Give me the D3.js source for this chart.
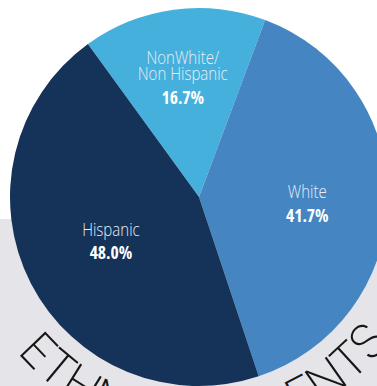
<!DOCTYPE html>
<html>
<head>
<meta charset="utf-8">
<script src="https://cdn.jsdelivr.net/npm/d3@7"></script>
<style>
  html, body { margin: 0; padding: 0; background: #ffffff; }
  svg { display: block; }
  .name { font-family: "Open Sans", "Liberation Sans Narrow", sans-serif; font-weight: 300; }
  .pct  { font-family: "Open Sans", "Liberation Sans Narrow", sans-serif; font-weight: 700; font-stretch: 75%; }
  .title { font-family: Inter, "DejaVu Sans", sans-serif; font-weight: 200; }
</style>
</head>
<body>
<svg id="chart" width="377" height="386"></svg>
<script>
// Student ethnicity shares (percent, as labelled)
const categories = ["NonWhite/Non Hispanic", "White", "Hispanic"];
const nameLines  = [["NonWhite/", "Non Hispanic"], ["White"], ["Hispanic"]];
const shares     = [16.7, 41.7, 48.0];
const sliceColors = ["#46b0dd", "#4585c2", "#153258"];
const titleText = "ETHNIC STUDENTS";

const width = 377, height = 386;
const cx = 199, cy = 197, R = 189;
const startDeg = -36;
// label block placement: fraction of the radius along each slice's centre line, plus a small vertical nudge
const labelRadiusFactor = [0.638, 0.573, 0.524];
const labelNudge = [0, 5, -1];
const nameSqueeze = 0.86;

const svg = d3.select("#chart");

// backdrop: white top, grey band below
svg.append("rect").attr("x", 0).attr("y", 0).attr("width", width).attr("height", height).attr("fill", "#ffffff");
svg.append("rect").attr("x", 0).attr("y", 219).attr("width", width).attr("height", height - 219).attr("fill", "#e4e4e9");

// curved title running round the bottom of the pie, letters facing the centre
const titleR = 239;
const titleFrom = -49.6 * Math.PI / 180;   // angle measured from straight down, + to the right
const titleTo = 53 * Math.PI / 180;
const pt = a => [cx + titleR * Math.sin(a), cy + titleR * Math.cos(a)];
const [sx, sy] = pt(titleFrom), [ex, ey] = pt(titleTo);
const defs = svg.append("defs");
defs.append("path")
  .attr("id", "titleArc")
  .attr("d", `M ${sx} ${sy} A ${titleR} ${titleR} 0 0 0 ${ex} ${ey}`);
svg.append("text")
  .attr("class", "title")
  .attr("font-size", 48)
  .attr("fill", "#161616")
  .append("textPath")
  .attr("href", "#titleArc")
  .attr("startOffset", 0)
  .attr("text-anchor", "start")
  .attr("textLength", titleR * (titleTo - titleFrom))
  .attr("lengthAdjust", "spacing")
  .text(titleText);

const data = categories.map((c, i) => ({ name: c, lines: nameLines[i], value: shares[i], color: sliceColors[i], idx: i }));

const start = startDeg * Math.PI / 180;
const pie = d3.pie().sort(null).value(d => d.value).startAngle(start).endAngle(start + 2 * Math.PI);
const arc = d3.arc().innerRadius(0).outerRadius(R);
const arcs = pie(data);

const g = svg.append("g").attr("transform", `translate(${cx},${cy})`);

g.selectAll("path.slice")
  .data(arcs)
  .join("path")
  .attr("class", "slice")
  .attr("d", arc)
  .attr("fill", d => d.data.color);

// labels: category name (light) above the bold percentage
const lineH = 16, pctGap = 23.5, capH = 12.5;
arcs.forEach(d => {
  const k = labelRadiusFactor[d.data.idx] * R;
  const [lx, cy0] = d3.arc().innerRadius(k).outerRadius(k).centroid(d);
  const ly = cy0 + labelNudge[d.data.idx];
  const n = d.data.lines.length;
  const blockH = capH + lineH * (n - 1) + pctGap;
  const firstBase = ly - blockH / 2 + capH;
  const t = g.append("g");
  d.data.lines.forEach((line, j) => {
    t.append("text")
      .attr("class", "name")
      .attr("transform", `translate(${lx},${firstBase + j * lineH}) scale(${nameSqueeze},1)`)
      .attr("text-anchor", "middle")
      .attr("font-size", 17.5)
      .attr("fill", "#e9eef5")
      .text(line);
  });
  t.append("text")
    .attr("class", "pct")
    .attr("x", lx)
    .attr("y", firstBase + (n - 1) * lineH + pctGap)
    .attr("text-anchor", "middle")
    .attr("font-size", 17.5)
    .attr("fill", "#ffffff")
    .text(d.data.value.toFixed(1) + "%");
});
</script>
</body>
</html>
